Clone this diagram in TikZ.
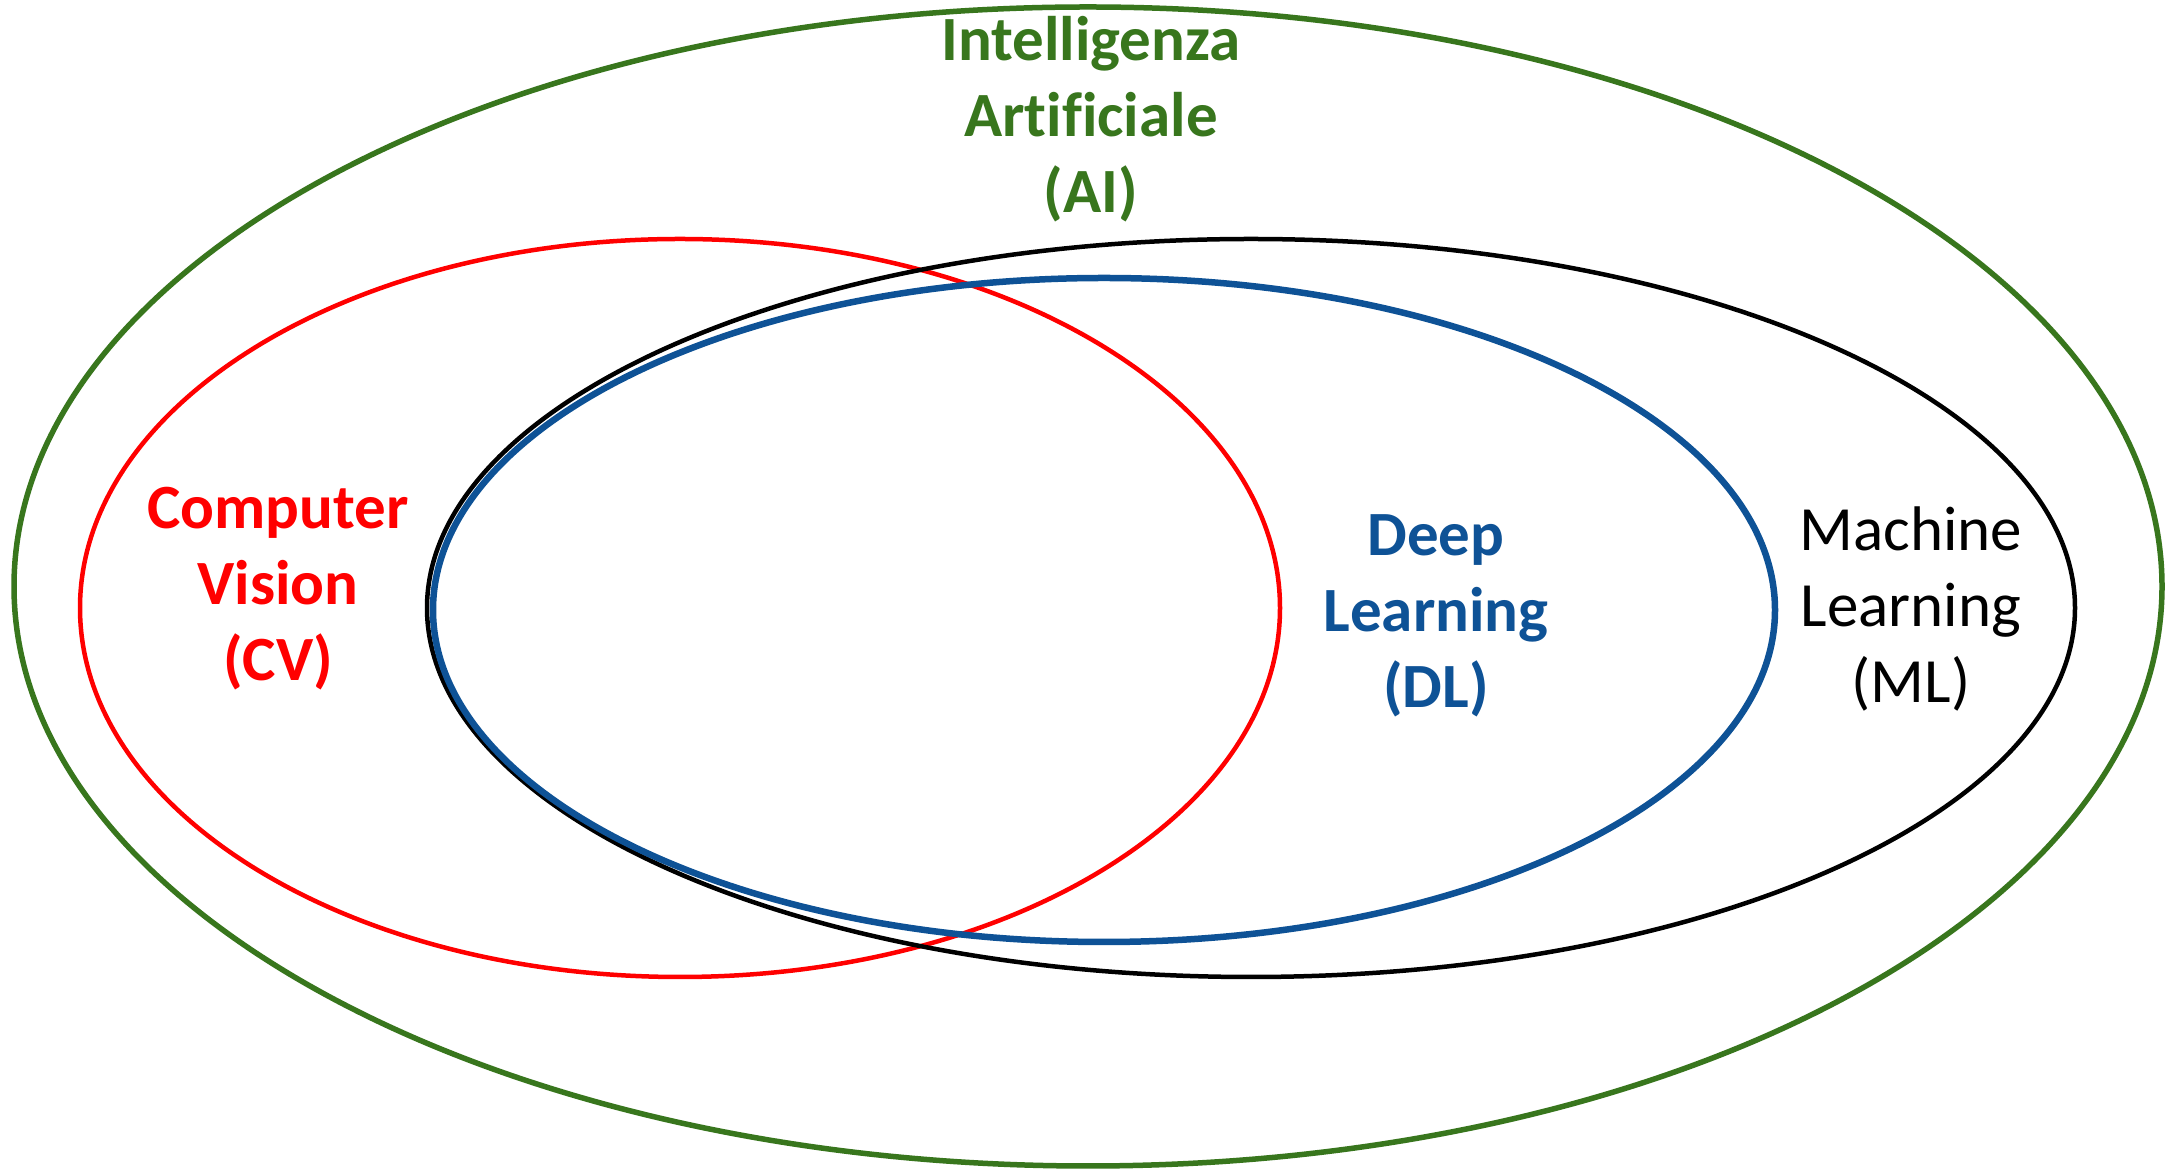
\documentclass[tikz,border=0pt]{standalone}
\usepackage{fontspec}
\setmainfont{Carlito}[Ligatures={NoCommon}]
\definecolor{aigreen}{RGB}{56,118,29}
\definecolor{dlblue}{RGB}{14,82,150}
\definecolor{cvred}{RGB}{255,0,0}
\begin{document}
\begin{tikzpicture}[x=1pt,y=1pt,
  lbl/.style={align=center,inner sep=0pt,font=\fontsize{63}{76}\selectfont}]
\useasboundingbox (0,0) rectangle (2169,1169);
\fill[white] (0,0) rectangle (2169,1169);
% AI
\draw[aigreen,line width=5.5] (1088,582.5) ellipse [x radius=1074,y radius=579.5];
% CV
\draw[cvred,line width=4.5] (680,561) ellipse [x radius=600,y radius=369];
% ML
\draw[black,line width=4.5] (1251,561) ellipse [x radius=824,y radius=369];
% DL
\draw[dlblue,line width=6.5] (1104,559) ellipse [x radius=671,y radius=332];
\node[lbl,text=aigreen,font=\fontsize{63}{76}\selectfont\bfseries] (ai) at (1091,1050) {Intelligenza\\Artificiale\\(AI)};
\node[lbl,text=cvred,font=\fontsize{63}{76}\selectfont\bfseries] (cv) at (278,580) {Computer\\Vision\\(CV)};
\node[lbl,text=dlblue,font=\fontsize{63}{76}\selectfont\bfseries] (dl) at (1436,553) {Deep\\Learning\\(DL)};
\node[lbl,text=black] (ml) at (1911,560) {Machine\\Learning\\(ML)};
\end{tikzpicture}
\end{document}
